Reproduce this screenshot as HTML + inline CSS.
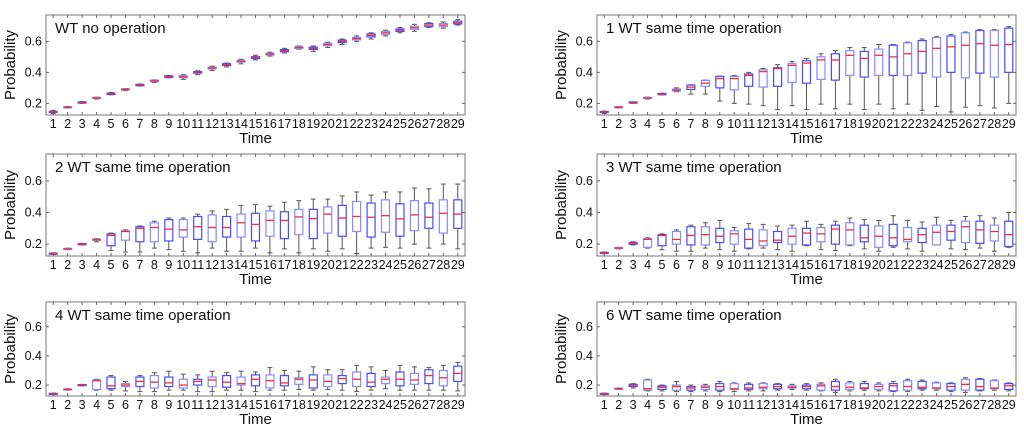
<!DOCTYPE html>
<html><head><meta charset="utf-8"><style>
body{margin:0;background:#fff;width:1024px;height:432px;overflow:hidden}
svg{display:block;font-family:"Liberation Sans",Arial,sans-serif}
</style></head><body>
<svg id="chart" width="1024" height="432" viewBox="0 0 1024 432"></svg>
<script>
const categories=[1,2,3,4,5,6,7,8,9,10,11,12,13,14,15,16,17,18,19,20,21,22,23,24,25,26,27,28,29];
const yTicks=[0.2,0.4,0.6];
const titles=["WT no operation","1 WT same time operation","2 WT same time operation","3 WT same time operation","4 WT same time operation","6 WT same time operation"];
const p1Med=[.145,.175,.205,.235,.262,.29,.318,.345,.372,.372,.40,.428,.45,.472,.495,.518,.54,.56,.555,.58,.60,.618,.638,.655,.672,.688,.705,.705,.72];
const p1Q1=[.142,.172,.202,.232,.258,.286,.314,.34,.367,.365,.395,.422,.444,.466,.489,.512,.533,.554,.548,.572,.592,.61,.628,.645,.664,.678,.695,.695,.712];
const p1Q3=[.148,.178,.209,.238,.266,.294,.322,.35,.377,.378,.405,.433,.456,.478,.501,.524,.547,.566,.562,.588,.608,.626,.648,.665,.68,.698,.715,.715,.73];
const p1Lo=[.135,.17,.2,.228,.255,.282,.312,.335,.365,.355,.385,.412,.435,.455,.48,.505,.525,.55,.535,.56,.58,.6,.615,.635,.655,.665,.69,.685,.705];
const p1Hi=[.155,.18,.212,.24,.27,.296,.325,.352,.38,.385,.41,.44,.46,.485,.51,.53,.555,.57,.57,.595,.615,.635,.655,.672,.69,.71,.72,.725,.74];
const p2Med=[.145,.175,.205,.235,.26,.285,.305,.33,.36,.36,.38,.405,.425,.445,.46,.48,.48,.51,.49,.51,.50,.52,.535,.555,.565,.575,.585,.575,.58];
const p2Q1=[.142,.172,.202,.232,.256,.28,.29,.31,.30,.287,.31,.305,.31,.335,.33,.355,.35,.38,.37,.38,.38,.38,.395,.37,.40,.365,.395,.37,.40];
const p2Q3=[.148,.178,.209,.238,.264,.292,.318,.348,.374,.374,.39,.417,.43,.457,.475,.50,.52,.54,.535,.55,.575,.59,.605,.625,.635,.655,.67,.67,.685];
const p2Lo=[.135,.17,.2,.228,.255,.275,.26,.26,.215,.20,.195,.185,.16,.185,.16,.195,.165,.195,.16,.195,.165,.195,.155,.18,.145,.175,.185,.17,.2];
const p2Hi=[.15,.18,.21,.24,.265,.3,.32,.35,.375,.38,.40,.425,.45,.47,.49,.52,.54,.56,.56,.58,.58,.595,.615,.63,.645,.66,.675,.675,.695];
const p3Med=[.14,.17,.20,.228,.255,.28,.30,.305,.295,.29,.31,.305,.305,.335,.325,.35,.35,.372,.362,.39,.365,.375,.37,.38,.36,.385,.37,.395,.39];
const p3Q1=[.137,.168,.197,.224,.19,.225,.215,.215,.22,.245,.23,.215,.245,.245,.22,.25,.235,.26,.235,.27,.25,.28,.245,.275,.25,.285,.30,.27,.30];
const p3Q3=[.143,.173,.203,.232,.265,.285,.31,.335,.355,.355,.375,.385,.375,.39,.395,.41,.405,.42,.42,.435,.445,.47,.46,.48,.455,.475,.46,.48,.48];
const p3Lo=[.135,.165,.195,.215,.16,.15,.15,.175,.165,.155,.145,.175,.155,.155,.175,.145,.17,.145,.17,.155,.17,.14,.175,.18,.175,.20,.175,.20,.17];
const p3Hi=[.145,.175,.205,.235,.27,.29,.315,.345,.365,.365,.39,.41,.42,.445,.45,.44,.465,.475,.485,.485,.505,.53,.51,.53,.53,.555,.55,.58,.58];
const p4Med=[.145,.175,.205,.23,.255,.23,.255,.26,.25,.265,.23,.22,.225,.25,.27,.265,.295,.29,.24,.25,.24,.23,.26,.275,.28,.31,.29,.28,.26];
const p4Q1=[.142,.172,.2,.18,.19,.20,.195,.195,.21,.20,.175,.19,.21,.20,.195,.215,.20,.195,.215,.18,.19,.215,.21,.195,.225,.21,.205,.22,.185];
const p4Q3=[.148,.178,.21,.235,.26,.28,.31,.31,.30,.285,.295,.29,.28,.30,.30,.305,.32,.335,.32,.315,.325,.305,.30,.32,.32,.345,.345,.32,.345];
const p4Lo=[.14,.17,.195,.175,.165,.155,.155,.175,.165,.155,.17,.175,.165,.155,.19,.165,.16,.19,.17,.155,.18,.17,.155,.195,.17,.165,.175,.155,.18];
const p4Hi=[.15,.18,.215,.24,.265,.29,.32,.335,.35,.305,.33,.325,.315,.32,.345,.325,.345,.365,.355,.35,.38,.35,.34,.37,.35,.375,.38,.365,.40];
const p5Med=[.14,.17,.20,.23,.195,.20,.225,.22,.215,.20,.225,.235,.22,.21,.24,.23,.215,.24,.235,.225,.245,.24,.22,.24,.24,.235,.265,.25,.28];
const p5Q1=[.137,.168,.197,.17,.175,.19,.19,.18,.19,.18,.20,.19,.185,.20,.195,.18,.195,.205,.18,.19,.21,.19,.19,.21,.195,.205,.21,.195,.225];
const p5Q3=[.143,.173,.203,.235,.255,.21,.255,.265,.255,.24,.24,.255,.265,.255,.27,.27,.265,.25,.27,.27,.265,.29,.28,.255,.29,.28,.305,.30,.33];
const p5Lo=[.135,.165,.195,.165,.165,.16,.155,.155,.165,.165,.155,.155,.165,.165,.155,.165,.165,.17,.165,.17,.165,.155,.165,.175,.165,.165,.165,.165,.16];
const p5Hi=[.145,.175,.205,.24,.265,.225,.265,.285,.295,.275,.27,.295,.285,.295,.29,.32,.30,.295,.325,.305,.305,.335,.325,.30,.335,.325,.32,.335,.355];
const p6Med=[.14,.175,.195,.175,.185,.19,.18,.185,.19,.175,.18,.185,.19,.185,.19,.195,.19,.185,.18,.19,.195,.19,.185,.18,.19,.205,.19,.18,.195];
const p6Q1=[.137,.172,.19,.165,.17,.165,.165,.17,.165,.17,.17,.175,.175,.18,.175,.165,.165,.17,.175,.17,.16,.165,.175,.175,.165,.165,.165,.175,.17];
const p6Q3=[.143,.178,.205,.235,.195,.20,.19,.195,.21,.21,.205,.21,.205,.195,.20,.205,.225,.215,.21,.205,.21,.23,.225,.215,.21,.24,.24,.23,.21];
const p6Lo=[.135,.17,.18,.16,.16,.155,.155,.16,.155,.155,.16,.16,.165,.17,.165,.16,.15,.16,.165,.16,.155,.155,.165,.165,.155,.15,.16,.165,.16];
const p6Hi=[.145,.18,.21,.24,.2,.225,.2,.205,.225,.215,.215,.215,.21,.205,.21,.215,.24,.225,.225,.215,.225,.24,.235,.22,.215,.25,.245,.235,.215];

const panels=[
 {med:p1Med,q1:p1Q1,q3:p1Q3,lo:p1Lo,hi:p1Hi},
 {med:p2Med,q1:p2Q1,q3:p2Q3,lo:p2Lo,hi:p2Hi},
 {med:p3Med,q1:p3Q1,q3:p3Q3,lo:p3Lo,hi:p3Hi},
 {med:p4Med,q1:p4Q1,q3:p4Q3,lo:p4Lo,hi:p4Hi},
 {med:p5Med,q1:p5Q1,q3:p5Q3,lo:p5Lo,hi:p5Hi},
 {med:p6Med,q1:p6Q1,q3:p6Q3,lo:p6Lo,hi:p6Hi}];
const NS="http://www.w3.org/2000/svg";
const svg=document.getElementById('chart');
function mk(tag,attrs,parent){const e=document.createElementNS(NS,tag);for(const k in attrs)e.setAttribute(k,attrs[k]);parent.appendChild(e);return e;}
const cols=[46,597], rows=[[15,115],[154,256],[302,396]];
const W=419;
panels.forEach((p,pi)=>{
  const L=cols[pi%2], T=rows[Math.floor(pi/2)][0], B=rows[Math.floor(pi/2)][1];
  const g=mk('g',{},svg);
  
  
  const xs=v=>L+(v-0.5)/29*W;
  const ys=v=>B-(v-0.125)/(0.77-0.125)*(B-T);
  const fr=mk('rect',{x:L,y:T,width:W,height:B-T,fill:'#fff',stroke:'#777','stroke-width':1},g);
  
  
  categories.forEach(c=>{
    const x=xs(c);
    mk('line',{x1:x,x2:x,y1:B,y2:B-3,stroke:'#666'},g);
    mk('line',{x1:x,x2:x,y1:T,y2:T+3,stroke:'#666'},g);
    const t=mk('text',{x:x,y:B+13,'font-size':12.5,'text-anchor':'middle',fill:'#111'},g);
    t.textContent=c;
    
    
  });
  yTicks.forEach(v=>{
    const y=ys(v);
    mk('line',{x1:L,x2:L+3,y1:y,y2:y,stroke:'#666'},g);
    mk('line',{x1:L+W,x2:L+W-3,y1:y,y2:y,stroke:'#666'},g);
    const t=mk('text',{x:L-4,y:y+4,'font-size':12.5,'text-anchor':'end',fill:'#111'},g);
    t.textContent=v.toFixed(1);
    
    
  });
  categories.forEach((c,i)=>{
    const x=xs(c), hw=4;
    const bx=mk('g',{},g);
    
    
    const wc='#555';
    mk('line',{x1:x,x2:x,y1:ys(p.hi[i]),y2:ys(p.q3[i]),stroke:wc,'stroke-width':1},bx);
    mk('line',{x1:x,x2:x,y1:ys(p.q1[i]),y2:ys(p.lo[i]),stroke:wc,'stroke-width':1},bx);
    mk('line',{x1:x-2.5,x2:x+2.5,y1:ys(p.hi[i]),y2:ys(p.hi[i]),stroke:wc},bx);
    mk('line',{x1:x-2.5,x2:x+2.5,y1:ys(p.lo[i]),y2:ys(p.lo[i]),stroke:wc},bx);
    const y3=ys(p.q3[i]), y1=ys(p.q1[i]);
    mk('rect',{x:x-hw,y:y3,width:2*hw,height:Math.max(1,y1-y3),fill:'#fff',stroke:(i%2?'#8a8aff':'#4a4aff'),'stroke-width':1.2},bx);
    mk('line',{x1:x-hw,x2:x+hw,y1:ys(p.med[i]),y2:ys(p.med[i]),stroke:'#f03030','stroke-width':1.3},bx);
  });
  const tt=mk('text',{x:L+9,y:T+18,'font-size':15,fill:'#111'},g);
  tt.textContent=titles[pi];
  
  
  const xl=mk('text',{x:L+W/2,y:B+28,'font-size':15,'text-anchor':'middle',fill:'#111'},g);
  xl.textContent='Time';
  
  
  const cy=(T+B)/2;
  const yl=mk('text',{x:0,y:0,'font-size':15,'text-anchor':'middle',fill:'#111',transform:'translate('+(L-31)+','+cy+') rotate(-90)'},g);
  yl.textContent='Probability';
  
  
});
</script>
</body></html>
